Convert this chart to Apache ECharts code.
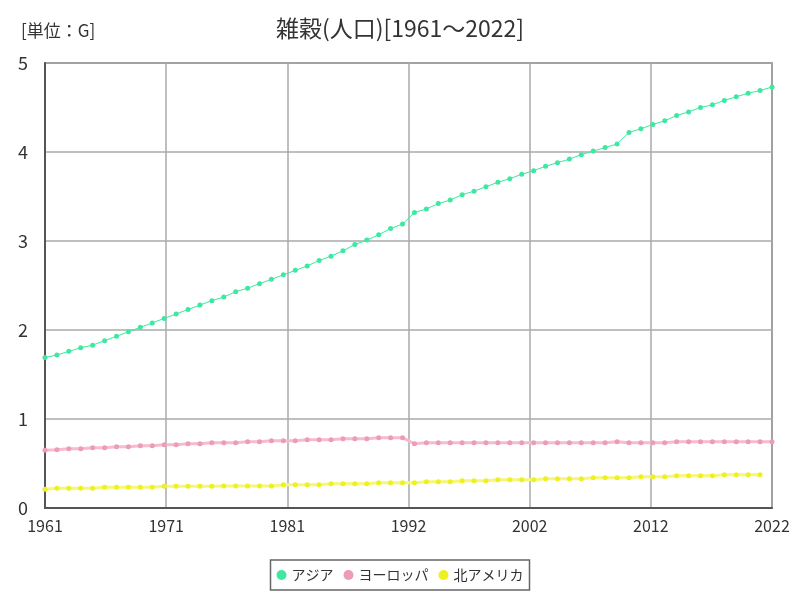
<!DOCTYPE html>
<html>
<head>
<meta charset="utf-8">
<script src="https://cdn.jsdelivr.net/npm/echarts@6/dist/echarts.min.js"></script>
<style>html,body{margin:0;padding:0;background:#fff;}#c{width:800px;height:600px;}</style>
</head>
<body>
<div id="c"></div>
<script>
var years = [];
for (var y = 1961; y <= 2022; y++) years.push(y);

var asia = [1.69,1.72,1.76,1.80,1.83,1.88,1.93,1.98,2.03,2.08,2.13,2.18,2.23,2.28,2.33,2.37,2.43,2.47,2.52,2.57,
  2.62,2.67,2.72,2.78,2.83,2.89,2.96,3.01,3.07,3.14,3.19,3.32,3.36,3.42,3.46,3.52,3.56,3.61,3.66,3.70,
  3.75,3.79,3.84,3.88,3.92,3.97,4.01,4.05,4.09,4.22,4.26,4.31,4.35,4.41,4.45,4.50,4.53,4.58,4.62,4.66,
  4.69,4.73];
var europe = [0.648,0.655,0.666,0.666,0.678,0.678,0.689,0.689,0.700,0.700,0.711,0.711,0.722,0.722,0.734,0.734,0.734,0.745,0.745,0.756,
  0.756,0.756,0.767,0.767,0.767,0.778,0.778,0.778,0.790,0.790,0.790,0.722,0.734,0.734,0.734,0.734,0.734,0.734,0.734,0.734,
  0.734,0.734,0.734,0.734,0.734,0.734,0.734,0.734,0.745,0.734,0.734,0.734,0.734,0.745,0.745,0.745,0.745,0.745,0.745,0.745,
  0.745,0.745];
var namerica = [0.210,0.221,0.221,0.221,0.221,0.232,0.232,0.232,0.232,0.232,0.244,0.244,0.244,0.244,0.244,0.247,0.247,0.247,0.247,0.247,
  0.262,0.262,0.262,0.262,0.273,0.273,0.273,0.273,0.284,0.284,0.284,0.284,0.295,0.295,0.295,0.307,0.307,0.307,0.318,0.318,
  0.318,0.318,0.329,0.329,0.329,0.329,0.340,0.340,0.340,0.340,0.351,0.351,0.351,0.363,0.363,0.363,0.363,0.374,0.374,0.374,
  0.374,null];

var seriesNames = ['アジア','ヨーロッパ','北アメリカ'];
var titleText = '雑穀(人口)[1961～2022]';
var unitText = '[単位：G]';

function pairs(vals){ return years.map(function(yr,i){ return [yr, vals[i]]; }); }

var FONT = '"Noto Sans CJK JP", sans-serif';
var chart = echarts.init(document.getElementById('c'));
chart.setOption({
  animation: false,
  backgroundColor: '#fff',
  title: [
    { text: titleText, left: 'center', top: 12, textStyle: { fontFamily: FONT, fontSize: 23, fontWeight: 'normal', color: '#333' } },
    { text: unitText, left: 16, top: 17, textStyle: { fontFamily: FONT, fontSize: 17, fontWeight: 'normal', color: '#333' } }
  ],
  grid: { left: 45, right: 28, top: 63, bottom: 92, show: true, borderColor: '#666', borderWidth: 1.5 },
  legend: {
    data: seriesNames, bottom: 10, left: 'center',
    icon: 'circle', itemWidth: 10, itemHeight: 10, itemGap: 10,
    borderColor: '#666', borderWidth: 1.5, padding: [8, 6],
    textStyle: { fontFamily: FONT, fontSize: 14, color: '#333' }
  },
  xAxis: {
    type: 'value', min: 1961, max: 2022, interval: 61/6,
    axisLine: { show: true, lineStyle: { color: '#555', width: 2 } },
    axisTick: { show: false },
    splitLine: { show: true, lineStyle: { color: '#aaa', width: 1.5 } },
    axisLabel: { fontFamily: FONT, fontSize: 16, color: '#333', margin: 10,
      formatter: function(v){ return String(Math.round(v)); } }
  },
  yAxis: {
    type: 'value', min: 0, max: 5, interval: 1,
    axisLine: { show: true, lineStyle: { color: '#555', width: 2 } },
    axisTick: { show: false },
    splitLine: { show: true, lineStyle: { color: '#aaa', width: 1.5 } },
    axisLabel: { fontFamily: FONT, fontSize: 18, color: '#333', margin: 17 }
  },
  series: [
    { name: seriesNames[0], type: 'line', data: pairs(asia), symbol: 'circle', symbolSize: 5,
      itemStyle: { color: '#3ee8a0' }, lineStyle: { color: '#3ee8a0', width: 1 } },
    { name: seriesNames[1], type: 'line', data: pairs(europe), symbol: 'circle', symbolSize: 5,
      itemStyle: { color: '#ec9cb4' }, lineStyle: { color: '#f5bccb', width: 3 } },
    { name: seriesNames[2], type: 'line', data: pairs(namerica), symbol: 'circle', symbolSize: 5,
      itemStyle: { color: '#eef020' }, lineStyle: { color: '#f4f77a', width: 3 } }
  ]
});
</script>
</body>
</html>
